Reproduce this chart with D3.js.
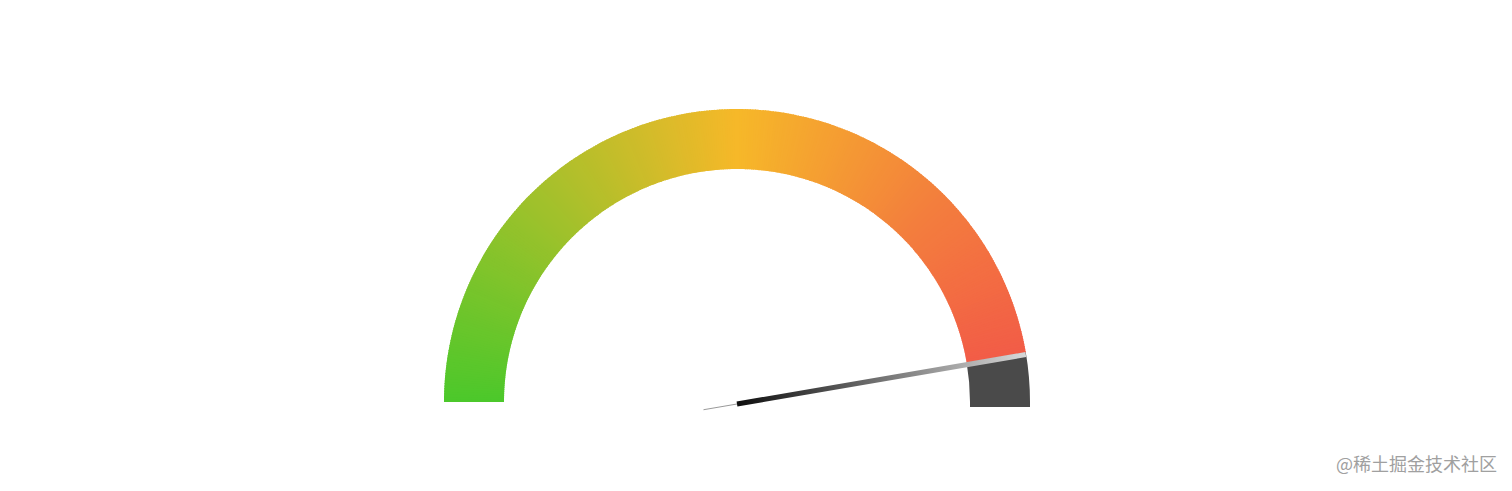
<!DOCTYPE html>
<html>
<head>
<meta charset="utf-8">
<script src="https://cdn.jsdelivr.net/npm/d3@7/dist/d3.min.js"></script>
<style>
html,body{margin:0;padding:0;background:#fff;}
svg{display:block;}
</style>
</head>
<body>
<svg id="chart" width="1512" height="491"></svg>
<script>
// ---- data ----
const gaugeMin = 0;
const gaugeMax = 100;
const gaugeValue = 94.6;
const gradientStops = [0, 0.25, 0.5, 0.75, 1];
const gradientColors = ["#4cc82b", "#a0c12b", "#f6b829", "#f37e3d", "#f2534a"];
const restColor = "#4a4a4a";
const needleColors = ["#0e0e0e", "#d8d8d8"];
const watermark = "@稀土掘金技术社区";

// ---- layout ----
const W = 1512, H = 491;
const cx = 737, cy = 402;
const rOuter = 293, rInner = 233;
const restDrop = 5;

const svg = d3.select("#chart");
const g = svg.append("g").attr("transform", `translate(${cx},${cy})`);

// angle scale: value -> radians (d3.arc: 0 = up, clockwise positive)
const angle = d3.scaleLinear().domain([gaugeMin, gaugeMax]).range([-Math.PI / 2, Math.PI / 2]);
const colorScale = d3.scaleLinear().domain(gradientStops).range(gradientColors).interpolate(d3.interpolateRgb);

const arc = d3.arc().innerRadius(rInner).outerRadius(rOuter);

// conic gradient: many thin segments
const N = 360;
const segs = d3.range(N).map(i => ({
  a0: gaugeMin + (gaugeMax - gaugeMin) * i / N,
  a1: gaugeMin + (gaugeMax - gaugeMin) * (i + 1) / N,
  t: (i + 0.5) / N
})).filter(d => d.a0 < gaugeValue);

g.selectAll("path.seg").data(segs).join("path")
  .attr("class", "seg")
  .attr("d", d => arc({startAngle: angle(d.a0), endAngle: Math.min(angle(d.a1), angle(gaugeValue)) + 0.004}))
  .attr("fill", d => colorScale(d.t));

// remaining part (dark) with flat bottom extension
g.append("path")
  .attr("d", arc({startAngle: angle(gaugeValue), endAngle: angle(gaugeMax)}))
  .attr("fill", restColor);
g.append("rect")
  .attr("x", rInner).attr("y", -0.5)
  .attr("width", rOuter - rInner).attr("height", restDrop + 0.5)
  .attr("fill", restColor);

// needle
const va = angle(gaugeValue); // radians from up, clockwise
const dx = Math.sin(va), dy = -Math.cos(va);
const tipR = rOuter;
const tailR = 34;
const defs = svg.append("defs");
const grad = defs.append("linearGradient")
  .attr("id", "needleGrad")
  .attr("gradientUnits", "userSpaceOnUse")
  .attr("x1", cx).attr("y1", cy + 2)
  .attr("x2", cx + dx * tipR).attr("y2", cy + 2 + dy * tipR);
grad.append("stop").attr("offset", "0%").attr("stop-color", needleColors[0]);
grad.append("stop").attr("offset", "100%").attr("stop-color", needleColors[1]);

// thin tail
svg.append("line")
  .attr("x1", cx).attr("y1", cy + 2)
  .attr("x2", cx - dx * tailR).attr("y2", cy + 2 - dy * tailR)
  .attr("stroke", "#9a9a9a").attr("stroke-width", 1);

svg.append("line")
  .attr("x1", cx).attr("y1", cy + 2)
  .attr("x2", cx + dx * tipR).attr("y2", cy + 2 + dy * tipR)
  .attr("stroke", "url(#needleGrad)").attr("stroke-width", 5);

// watermark
svg.append("text")
  .attr("x", 1497).attr("y", 471)
  .attr("text-anchor", "end")
  .attr("font-family", "'Noto Sans CJK SC', sans-serif")
  .attr("font-size", 18)
  .attr("fill", "#a0a0a0")
  .text(watermark);
</script>
</body>
</html>
